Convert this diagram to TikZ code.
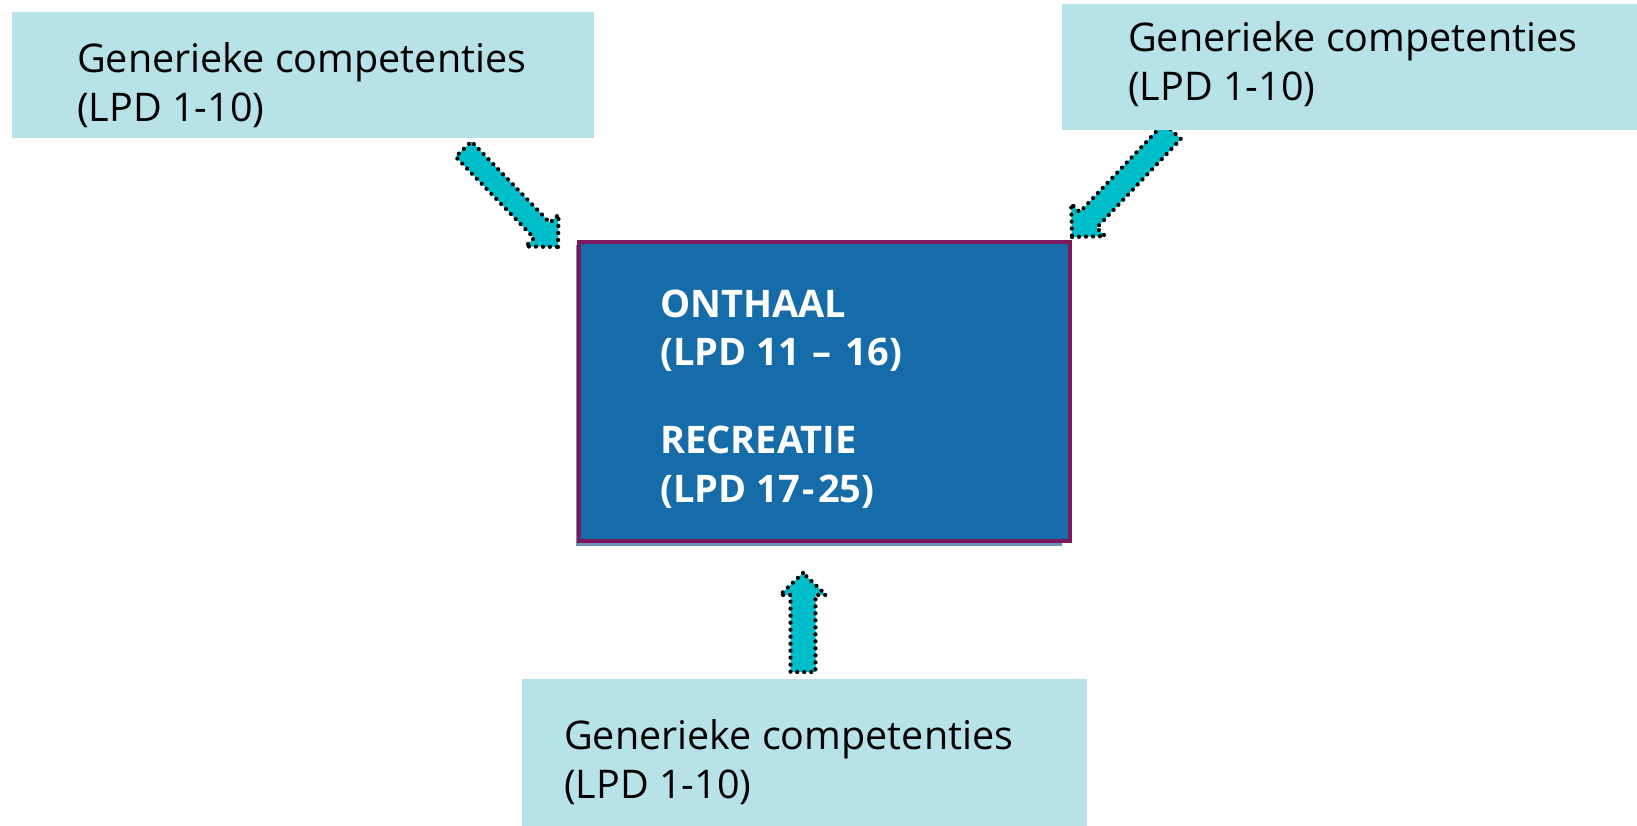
\documentclass[tikz,border=0pt]{standalone}
\usepackage{fontspec}
\setmainfont{Open Sans}
\definecolor{lightbox}{HTML}{B7E3E8}
\definecolor{centerfill}{HTML}{166CA8}
\definecolor{centerborder}{HTML}{7B1A5C}
\definecolor{arrowfill}{HTML}{00BDCA}
\definecolor{shadowc}{HTML}{6F8FB5}
\newcommand{\blkarrow}[6]{%
  \begin{scope}[shift={(#1)}, rotate=#2]
    \filldraw[blkarrow] (0,0) -- (-#6,#5/2) -- (-#6,#4/2) -- (-#3,#4/2)
      -- (-#3,-#4/2) -- (-#6,-#4/2) -- (-#6,-#5/2) -- cycle;
  \end{scope}}
\begin{document}
\begin{tikzpicture}[x=1pt,y=1pt,
  lbox/.style={fill=lightbox, draw=none, inner sep=0pt, outer sep=0pt, anchor=north west},
  cbox/.style={fill=centerfill, draw=centerborder, line width=4pt, inner sep=0pt, outer sep=0pt, anchor=north west},
  blkarrow/.style={fill=arrowfill, draw=black, line width=4.2pt, line cap=round, line join=round, dash pattern=on 0pt off 7pt},
  gtext/.style={anchor=base west, inner sep=0pt, font=\fontsize{39.5}{49}\selectfont},
  ctext/.style={anchor=base west, inner sep=0pt, text=white, font=\bfseries\fontsize{38}{48.5}\selectfont}]
\useasboundingbox (0,0) rectangle (1637,-826);
\fill[white] (0,0) rectangle (1637,-826);

% arrows
\coordinate (a1tip) at (558,-247);
\coordinate (a2tip) at (1072,-237);
\coordinate (a3tip) at (803,-573);
\blkarrow{a2tip}{226.5}{146}{23}{47}{23.5}
\blkarrow{a1tip}{-46}{136}{22}{46}{23}
\blkarrow{a3tip}{90}{99}{25}{46}{22}

% light boxes
\node[lbox, minimum width=582pt, minimum height=126pt] (tl) at (12,-12) {};
\node[lbox, minimum width=575pt, minimum height=126pt] (tr) at (1062,-4) {};
\node[lbox, minimum width=565pt, minimum height=147pt] (bt) at (522,-679) {};

% centre box with shadow
\fill[shadowc] (576,-245) rectangle (1062,-546);
\node[cbox, minimum width=491pt, minimum height=299pt] (cb) at (579,-242) {};

% texts
\node[gtext] (tltext) at (77,-73) {\vtop{\hbox{Generieke competenties}\hbox{(LPD 1-10)}}};
\node[gtext] (trtext) at (1128,-52) {\vtop{\hbox{Generieke competenties}\hbox{(LPD 1-10)}}};
\node[gtext] (bttext) at (564,-749) {\vtop{\hbox{Generieke competenties}\hbox{(LPD 1-10)}}};
\node[ctext] (cbtext) at (660,-317) {\vtop{\hbox{ONTHAAL}\hbox{(LPD 11\kern13pt–\kern14pt16)}\vskip 39.5pt\hbox{RECREATIE}\hbox{(LPD 17\kern3pt-\kern3pt25)}}};
\end{tikzpicture}
\end{document}
